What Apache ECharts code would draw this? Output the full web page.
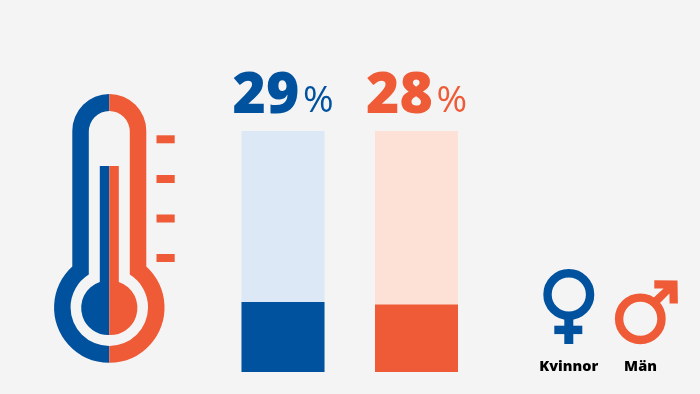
<!DOCTYPE html>
<html lang="sv" style="height: 100%">
<head>
<meta charset="utf-8">
<title>Kvinnor och män</title>
</head>
<body style="height: 100%; margin: 0; background: #f4f4f4">
<div id="container" style="height: 100%"></div>
<script src="https://cdn.jsdelivr.net/npm/echarts/dist/echarts.min.js"></script>
<script>
var groups = ['Kvinnor', 'Män'];
var shares = [29, 28];
var trackValues = [100, 100];
var groupColors = ['#00519e', '#ef5b36'];
var trackColors = ['#dce8f6', '#fde1d6'];

var myChart = echarts.init(document.getElementById('container'));

var BLUE = groupColors[0], ORANGE = groupColors[1];
var CX = 109.3;

// half of the thermometer, dir is -1 for the left side and 1 for the right
function thermoShell(dir) {
  var out = dir < 0 ? 0 : 1, inn = dir < 0 ? 1 : 0;
  var x = function (d) { return CX + dir * d; };
  return 'M' + CX + ' 94 A37 37 0 0 ' + out + ' ' + x(37) + ' 131' +
    ' L' + x(37) + ' 266.5 A55.2 55.2 0 0 ' + out + ' ' + CX + ' 362.7' +
    ' L' + CX + ' 346 A38.6 38.6 0 0 ' + inn + ' ' + x(20.5) + ' 274.6' +
    ' L' + x(20.5) + ' 131.5 A20.5 20.5 0 0 ' + inn + ' ' + CX + ' 111 Z';
}
function thermoCore(dir) {
  var x = function (d) { return CX + dir * d; };
  return 'M' + CX + ' 166 L' + x(9.5) + ' 166 L' + x(9.5) + ' 282' +
    ' A27.2 27.2 0 0 ' + (dir < 0 ? 0 : 1) + ' ' + CX + ' 335 Z';
}
// the graphic component has no plain path type, so each icon part is registered as a shape
var pathCount = 0;
function path(d, fill) {
  var name = 'iconPath' + pathCount++;
  echarts.graphic.registerShape(name, echarts.graphic.extendPath(d, {}));
  return { type: name, style: { fill: fill } };
}
function ring(cx, cy, r, width, color) {
  return { type: 'circle', shape: { cx: cx, cy: cy, r: r }, style: { fill: 'none', stroke: color, lineWidth: width } };
}
function rect(x, y, w, h, fill) {
  return { type: 'rect', shape: { x: x, y: y, width: w, height: h }, style: { fill: fill } };
}
function caption(text, x) {
  return {
    type: 'text', x: x, y: 367,
    style: { text: text, fill: '#000', font: '800 14.5px "Open Sans"', textAlign: 'center', textVerticalAlign: 'middle' }
  };
}

var icons = [
  path(thermoShell(-1), BLUE), path(thermoShell(1), ORANGE),
  path(thermoCore(-1), BLUE), path(thermoCore(1), ORANGE),
  rect(156.5, 135.3, 18.2, 8, ORANGE), rect(156.5, 175, 18.2, 8, ORANGE),
  rect(156.5, 214.5, 18.2, 8, ORANGE), rect(156.5, 254, 18.2, 8, ORANGE),
  ring(568.8, 294.5, 21.3, 8.4, BLUE),
  rect(564.3, 318, 9, 26, BLUE), rect(554.3, 325.7, 28, 8.4, BLUE),
  ring(640.3, 318.8, 21.2, 8.4, ORANGE),
  path('M654.3 280.3 L677.5 280.6 L677.9 303.6 L669.6 303.6 L669.4 293.6 L658.5 304.5 L652.7 298.6 L663.6 288.4 L654.3 288.4 Z', ORANGE),
  caption('Kvinnor', 568.7), caption('Män', 640.5)
];

var option = {
  backgroundColor: '#f4f4f4',
  animation: false,
  grid: { left: 216.25, top: 131, width: 267, height: 241 },
  xAxis: { type: 'category', data: groups, show: false },
  yAxis: { type: 'value', min: 0, max: 100, show: false },
  graphic: { elements: icons },
  series: [
    {
      name: 'track',
      type: 'bar',
      barWidth: 83,
      barGap: '-100%',
      data: trackValues.map(function (v, i) {
        return {
          value: v,
          itemStyle: { color: trackColors[i] },
          label: {
            show: true,
            position: 'top',
            distance: 6,
            formatter: '{n|' + shares[i] + '}{s| }{p|%}',
            rich: {
              n: { fontFamily: 'Open Sans', fontWeight: 800, fontSize: 57, color: groupColors[i] },
              s: { fontSize: 13 },
              p: { fontFamily: 'Open Sans', fontWeight: 400, fontSize: 37, color: groupColors[i], verticalAlign: 'bottom', padding: [0, 0, 5, 0] }
            }
          }
        };
      })
    },
    {
      name: 'share',
      type: 'bar',
      barWidth: 83,
      data: shares.map(function (v, i) {
        return { value: v, itemStyle: { color: groupColors[i] } };
      })
    }
  ]
};

myChart.setOption(option);
window.addEventListener('resize', myChart.resize);
</script>
</body>
</html>
